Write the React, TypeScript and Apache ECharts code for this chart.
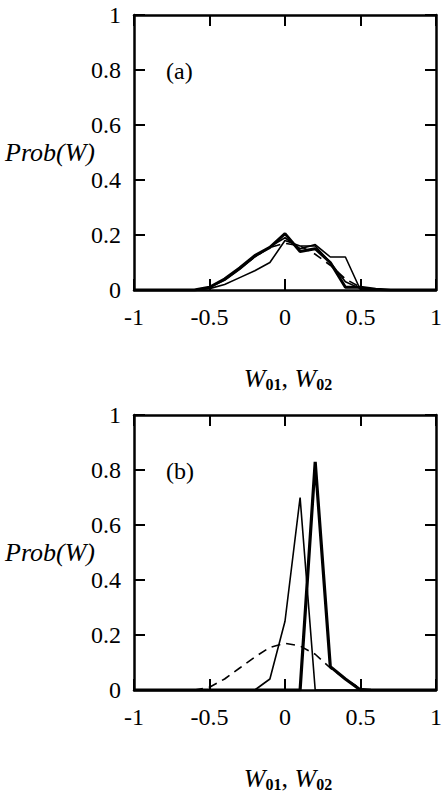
import React, { useEffect, useRef } from "react";
import * as echarts from "echarts";

const xs = [-1, -0.9, -0.8, -0.7, -0.6, -0.5, -0.4, -0.3, -0.2, -0.1, 0, 0.1, 0.2, 0.3, 0.4, 0.5, 0.6, 0.7, 0.8, 0.9, 1];

// Panel (a)
const aThick = [0, 0, 0, 0, 0, 0.01, 0.04, 0.08, 0.125, 0.155, 0.205, 0.14, 0.15, 0.1, 0.01, 0.01, 0.003, 0, 0, 0, 0];
const aThinPlateau = [0, 0, 0, 0, 0, 0.01, 0.035, 0.075, 0.12, 0.157, 0.19, 0.15, 0.165, 0.12, 0.12, 0.0, 0, 0, 0, 0, 0];
const aThinLow = [0, 0, 0, 0, 0, 0.005, 0.02, 0.045, 0.07, 0.1, 0.18, 0.16, 0.16, 0.1, 0.03, 0.005, 0, 0, 0, 0, 0];
const aDashed = [0, 0, 0, 0, 0, 0.01, 0.04, 0.08, 0.12, 0.155, 0.17, 0.16, 0.13, 0.09, 0.04, 0.01, 0, 0, 0, 0, 0];

// Panel (b)
const bThick = [0, 0, 0, 0, 0, 0, 0, 0, 0, 0, 0, 0, 0.83, 0.085, 0.04, 0, 0, 0, 0, 0, 0];
const bThin = [0, 0, 0, 0, 0, 0, 0, 0, 0, 0.04, 0.25, 0.7, 0, 0, 0, 0, 0, 0, 0, 0, 0];
const bDashed = [0, 0, 0, 0, 0, 0.01, 0.04, 0.08, 0.12, 0.155, 0.17, 0.16, 0.13, 0.08, 0.04, 0.005, 0, 0, 0, 0, 0];

const xTicks = [-1, -0.5, 0, 0.5, 1];
const yTicks = [0, 0.2, 0.4, 0.6, 0.8, 1];

const FONT = "Liberation Serif";

const pairs = (ys: number[]) => xs.map((x, i) => [x, ys[i]]);

export default function App() {
  const ref = useRef<HTMLDivElement>(null);
  useEffect(() => {
    if (!ref.current) return;
    const chart = echarts.init(ref.current, null, { renderer: "svg" });
    const grids = [
      { left: 134, top: 15, width: 309, height: 275 },
      { left: 134, top: 415, width: 309, height: 275 },
    ];
    const lineStyleAxis = { color: "#000", width: 2.5 };
    const tick = { show: true, inside: true, length: 11, lineStyle: { color: "#000", width: 2 } };
    const labelFont = { fontFamily: FONT, fontSize: 24, color: "#000" };
    const xAxes: any[] = [];
    const yAxes: any[] = [];
    grids.forEach((_, gi) => {
      xAxes.push({
        type: "value",
        gridIndex: gi,
        min: -1,
        max: 1,
        interval: 0.5,
        position: "bottom",
        axisLine: { show: true, onZero: false, lineStyle: lineStyleAxis },
        axisTick: tick,
        splitLine: { show: false },
        axisLabel: {
          show: true,
          margin: 15,
          ...labelFont,
          formatter: (v: number) => {
            const r = Math.round(v * 10) / 10;
            return xTicks.includes(r) ? String(r) : "";
          },
        },
      });
      xAxes.push({
        type: "value",
        gridIndex: gi,
        min: -1,
        max: 1,
        interval: 0.5,
        position: "top",
        axisLine: { show: true, onZero: false, lineStyle: lineStyleAxis },
        axisTick: tick,
        splitLine: { show: false },
        axisLabel: { show: false },
      });
      yAxes.push({
        type: "value",
        gridIndex: gi,
        min: 0,
        max: 1,
        interval: 0.2,
        position: "left",
        axisLine: { show: true, onZero: false, lineStyle: lineStyleAxis },
        axisTick: tick,
        splitLine: { show: false },
        axisLabel: {
          show: true,
          margin: 13,
          ...labelFont,
          formatter: (v: number) => {
            const r = Math.round(v * 10) / 10;
            return yTicks.includes(r) ? String(r) : "";
          },
        },
      });
      yAxes.push({
        type: "value",
        gridIndex: gi,
        min: 0,
        max: 1,
        interval: 0.2,
        position: "right",
        axisLine: { show: true, onZero: false, lineStyle: lineStyleAxis },
        axisTick: tick,
        splitLine: { show: false },
        axisLabel: { show: false },
      });
    });

    const mk = (ys: number[], gi: number, width: number, dashed = false) => ({
      type: "line",
      xAxisIndex: gi * 2,
      yAxisIndex: gi * 2,
      data: pairs(ys),
      showSymbol: false,
      symbol: "none",
      lineStyle: { color: "#000", width, type: dashed ? [9, 6] : "solid" },
      z: 3,
    });

    const titleRich = {
      w: { fontFamily: FONT, fontStyle: "italic", fontSize: 26, fill: "#000" },
      c: { fontFamily: FONT, fontSize: 26, fill: "#000" },
      s: { fontFamily: FONT, fontWeight: "bold", fontSize: 16, fill: "#000", padding: [12, 0, 0, 0] },
    };

    const graphics: any[] = [];
    [0, 400].forEach((dy, i) => {
      graphics.push({
        type: "text",
        left: 166,
        top: 59 + dy,
        style: { text: i === 0 ? "(a)" : "(b)", font: `24px "${FONT}"`, fill: "#000" },
      });
      graphics.push({
        type: "text",
        left: 5,
        top: 139 + dy,
        style: { text: "Prob(W)", font: `italic 26px "${FONT}"`, fill: "#000" },
      });
      graphics.push({
        type: "text",
        x: 288,
        y: 378 + dy,
        style: {
          text: "{w|W}{s|01}{c|, }{w|W}{s|02}",
          align: "center",
          verticalAlign: "middle",
          rich: titleRich,
        },
      });
    });

    chart.setOption({
      animation: false,
      backgroundColor: "#fff",
      grid: grids,
      xAxis: xAxes,
      yAxis: yAxes,
      series: [
        mk(aDashed, 0, 1.6, true),
        mk(aThinLow, 0, 1.6),
        mk(aThinPlateau, 0, 1.6),
        mk(aThick, 0, 3),
        mk(bDashed, 1, 1.6, true),
        mk(bThin, 1, 1.6),
        mk(bThick, 1, 3.2),
      ],
      graphic: graphics,
    });
    return () => chart.dispose();
  }, []);
  return (
    <div
      ref={ref}
      style={{ position: "fixed", left: 0, top: 0, width: 445, height: 798, background: "#fff" }}
    />
  );
}
